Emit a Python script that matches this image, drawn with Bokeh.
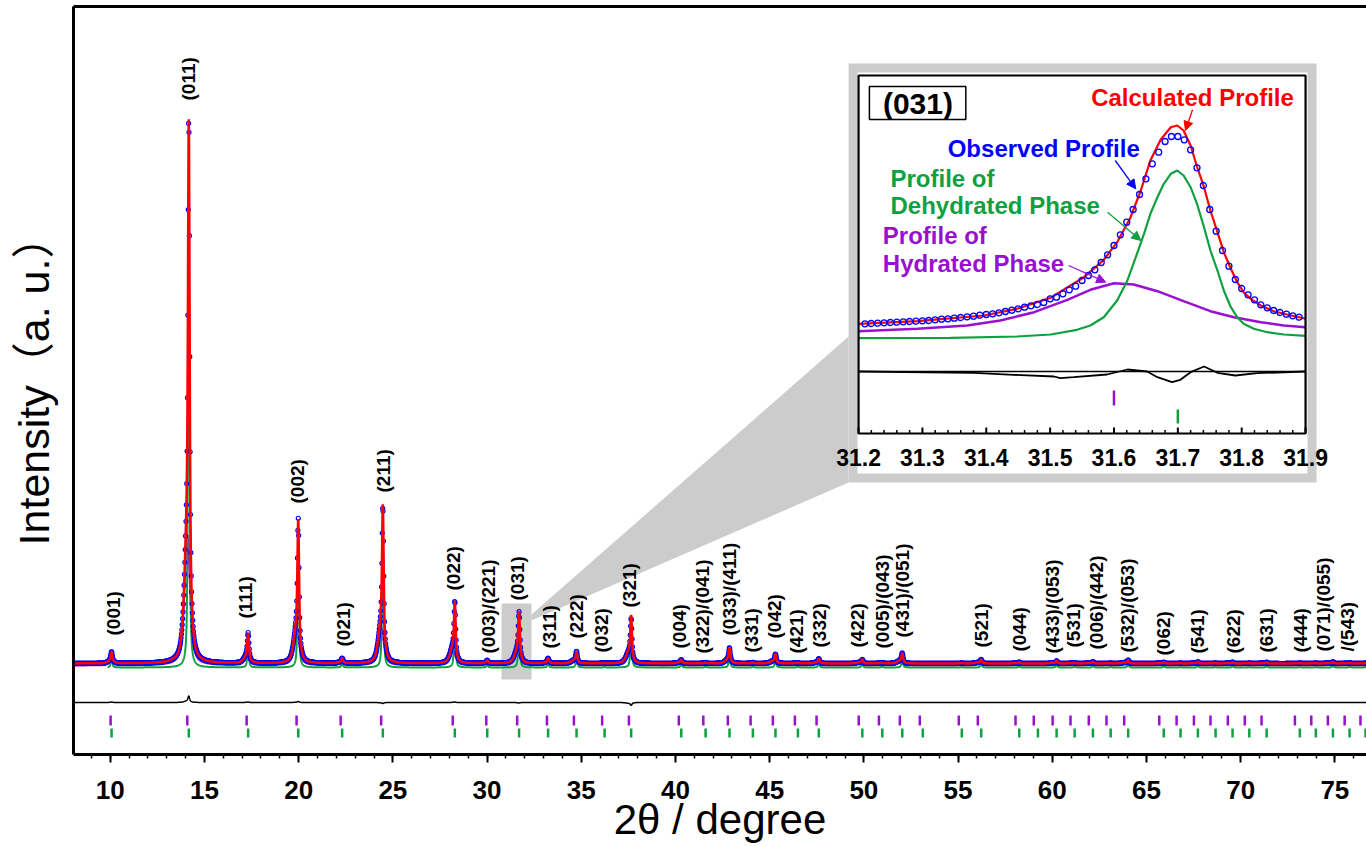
import numpy as np
from bokeh.plotting import figure
from bokeh.models import (Range1d, LinearAxis, FixedTicker, SingleIntervalTicker,
                          Arrow, NormalHead)
from bokeh.core.properties import value
from bokeh.embed import file_html
from bokeh.resources import INLINE

# ------------------------------------------------------------------ data
# reflection positions (2theta, degree) read from the tick rows
hydrated_pos = [10.02, 14.09, 17.24, 19.89, 22.23, 24.38, 28.18, 29.96, 31.60, 33.18,
                34.61, 36.11, 37.53, 40.18, 41.48, 42.78, 43.99, 45.17, 46.34, 47.49,
                49.73, 50.80, 51.91, 52.97, 55.04, 56.05, 58.05, 59.02, 60.02, 60.97,
                61.94, 62.88, 63.82, 65.68, 66.60, 67.52, 68.40, 69.32, 70.22, 71.11,
                72.88, 73.75, 74.63, 75.52, 76.36]
dehydrated_pos = [10.07, 14.17, 17.32, 19.98, 22.31, 24.47, 28.29, 30.01, 31.70, 33.24,
                  34.75, 36.24, 37.65, 40.31, 41.60, 42.87, 44.11, 45.31, 46.50, 47.61,
                  49.92, 50.98, 52.04, 53.13, 55.20, 56.23, 58.25, 59.24, 60.23, 61.19,
                  62.16, 63.10, 64.03, 65.92, 66.81, 67.73, 68.67, 69.57, 70.46, 71.38,
                  73.14, 73.99, 74.90, 75.78, 76.63]
# peak heights above background (counts), calculated and observed
calc_height = [220, 10860, 600, 2900, 100, 3200, 1280, 60, 1060, 100,
               260, 10, 1000, 80, 20, 320, 20, 200, 20, 100,
               90, 20, 220, 0, 10, 90, 30, 0, 60, 20,
               40, 10, 80, 30, 10, 40, 10, 30, 10, 30,
               10, 10, 40, 20, 10]
obs_height = [230, 10990, 610, 2920, 100, 3180, 1290, 60, 1050, 100,
              260, 10, 940, 80, 20, 320, 20, 200, 20, 100,
              90, 20, 220, 0, 10, 90, 30, 0, 60, 20,
              40, 10, 80, 30, 10, 40, 10, 30, 10, 30,
              10, 10, 40, 20, 10]
background = 1000
background_dehydrated = 920
background_hydrated = 960

label_text = ["(001)", "(011)", "(111)", "(002)", "(021)", "(211)", "(022)", "(003)/(221)",
              "(031)", "(311)", "(222)", "(032)", "(321)", "(004)", "(322)/(041)",
              "(033)/(411)", "(331)", "(042)", "(421)", "(332)", "(422)", "(005)/(043)",
              "(431)/(051)", "(521)", "(044)", "(433)/(053)", "(531)", "(006)/(442)",
              "(532)/(053)", "(062)", "(541)", "(622)", "(631)", "(444)", "(071)/(055)",
              "/(543)"]
label_2theta = [10.19, 14.16, 17.18, 19.94, 22.37, 24.51, 28.22, 30.06, 31.60, 33.34,
                34.73, 36.06, 37.58, 40.23, 41.42, 42.89, 44.02, 45.28, 46.41, 47.66,
                49.65, 50.98, 52.04, 56.25, 58.28, 60.00, 61.15, 62.35, 63.98, 65.89,
                67.73, 69.61, 71.37, 73.18, 74.42, 75.66]
label_y = [1560, 12260, 1900, 4200, 1340, 4420, 2460, 1200, 2260, 1300,
           1500, 1220, 2120, 1300, 1200, 1560, 1220, 1500, 1200, 1320,
           1320, 1300, 1520, 1320, 1240, 1200, 1320, 1280, 1220, 1160,
           1200, 1200, 1220, 1220, 1240, 1240]

# inset (031) region
inset_obs_2theta = [31.21, 31.22, 31.23, 31.24, 31.25, 31.26, 31.27, 31.28, 31.29, 31.30,
                    31.31, 31.32, 31.33, 31.34, 31.35, 31.36, 31.37, 31.38, 31.39, 31.40,
                    31.41, 31.42, 31.43, 31.44, 31.45, 31.46, 31.47, 31.48, 31.49, 31.50,
                    31.51, 31.52, 31.53, 31.54, 31.55, 31.56, 31.57, 31.58, 31.59, 31.60,
                    31.61, 31.62, 31.63, 31.64, 31.65, 31.66, 31.67, 31.68, 31.69, 31.70,
                    31.71, 31.72, 31.73, 31.74, 31.75, 31.76, 31.77, 31.78, 31.79, 31.80,
                    31.81, 31.82, 31.83, 31.84, 31.85, 31.86, 31.87, 31.88, 31.89]
inset_obs = [1097, 1100, 1103, 1107, 1110, 1113, 1117, 1120, 1123, 1127,
             1130, 1137, 1143, 1147, 1153, 1160, 1167, 1173, 1183, 1190,
             1197, 1207, 1220, 1233, 1247, 1263, 1277, 1290, 1310, 1347,
             1363, 1397, 1437, 1473, 1530, 1580, 1637, 1710, 1787, 1880,
             1987, 2113, 2240, 2390, 2547, 2697, 2813, 2920, 2970, 2970,
             2937, 2837, 2657, 2480, 2240, 2023, 1830, 1673, 1540, 1450,
             1387, 1337, 1287, 1257, 1230, 1210, 1193, 1177, 1163]
inset_calc_2theta = [31.200, 31.292, 31.396, 31.448, 31.501, 31.553, 31.584, 31.605, 31.626,
                     31.642, 31.657, 31.673, 31.689, 31.699, 31.709, 31.720, 31.730, 31.741,
                     31.751, 31.762, 31.772, 31.783, 31.793, 31.803, 31.814, 31.830, 31.850,
                     31.871, 31.900]
inset_calc = [1097, 1123, 1180, 1247, 1357, 1563, 1737, 1913, 2163,
              2430, 2730, 2937, 3063, 3080, 3030, 2880, 2670, 2463,
              2230, 2013, 1813, 1647, 1513, 1413, 1347, 1280, 1223,
              1190, 1147]
inset_dehyd_2theta = [31.200, 31.344, 31.448, 31.501, 31.542, 31.563, 31.584, 31.605, 31.621,
                      31.636, 31.647, 31.657, 31.668, 31.678, 31.689, 31.699, 31.709, 31.720,
                      31.730, 31.741, 31.751, 31.762, 31.772, 31.783, 31.793, 31.803, 31.819,
                      31.840, 31.866, 31.900]
inset_dehyd = [953, 957, 970, 990, 1037, 1080, 1163, 1330, 1530,
               1797, 1997, 2197, 2363, 2497, 2597, 2630, 2580, 2463,
               2297, 2063, 1830, 1630, 1430, 1263, 1163, 1097, 1047,
               1013, 990, 977]
inset_hyd_2theta = [31.200, 31.292, 31.370, 31.422, 31.475, 31.527, 31.563, 31.600,
                    31.631, 31.668, 31.709, 31.751, 31.788, 31.830, 31.866, 31.900]
inset_hyd = [1023, 1047, 1080, 1130, 1213, 1337, 1437, 1503,
             1490, 1423, 1323, 1223, 1163, 1113, 1080, 1063]
inset_diff_2theta = [31.200, 31.381, 31.443, 31.506, 31.516, 31.537, 31.589, 31.621, 31.652,
                     31.668, 31.691, 31.704, 31.720, 31.741, 31.762, 31.790, 31.824, 31.900]
inset_diff = [620, 607, 587, 570, 553, 563, 590, 640, 620,
              563, 513, 537, 613, 670, 607, 580, 603, 620]
inset_diff_zero = 620
inset_ticks = [31.2, 31.3, 31.4, 31.5, 31.6, 31.7, 31.8, 31.9]
inset_tick_labels = ["31.2", "31.3", "31.4", "31.5", "31.6", "31.7", "31.8", "31.9"]

# ------------------------------------------------------------------ styles
FONT = "Liberation Sans"
BLUE, RED, GREEN, PURPLE, GREY = "#0000ff", "#ff0000", "#10a040", "#9a10d0", "#cccccc"
W_DEHYD, W_HYD, ETA = 0.10, 0.35, 0.6
F_DEHYD, F_HYD = 0.80, 0.24


def profile(xx, heights, centers, width, frac):
    out = np.zeros_like(xx)
    for h, c in zip(heights, centers):
        if h <= 0:
            continue
        d = (xx - c) / width
        out += frac * h * (ETA / (1 + 4 * d * d) + (1 - ETA) * np.exp(-4 * np.log(2) * d * d))
    return out


x = np.arange(8.05, 76.70, 0.01)
xo = np.arange(8.06, 76.70, 0.02)
dehyd_part = profile(x, calc_height, dehydrated_pos, W_DEHYD, F_DEHYD)
hyd_part = profile(x, calc_height, hydrated_pos, W_HYD, F_HYD)
calc = background + dehyd_part + hyd_part
obs_fine = (background + profile(x, obs_height, dehydrated_pos, W_DEHYD, F_DEHYD)
            + profile(x, obs_height, hydrated_pos, W_HYD, F_HYD))
obs = (background + profile(xo, obs_height, dehydrated_pos, W_DEHYD, F_DEHYD)
       + profile(xo, obs_height, hydrated_pos, W_HYD, F_HYD))
DIFF_OFFSET = 220
diff = obs_fine - calc + DIFF_OFFSET
mask_d = x >= 9.85

# ------------------------------------------------------------------ figure
p = figure(width=1366, height=846, x_range=Range1d(8.05, 76.68), y_range=Range1d(-820, 14140),
           output_backend="svg", toolbar_location=None,
           min_border_left=73, min_border_right=0, min_border_top=6, min_border_bottom=92,
           background_fill_color="white", border_fill_color="white")
p.outline_line_color = None
p.xgrid.visible = False
p.ygrid.visible = False

xa = p.xaxis[0]
xa.ticker = SingleIntervalTicker(interval=5, num_minor_ticks=5)
xa.axis_line_width = 3
xa.axis_line_color = "black"
xa.major_tick_line_width = 2
xa.minor_tick_line_width = 1.5
xa.major_tick_line_color = "black"
xa.minor_tick_line_color = "black"
xa.major_tick_out = 8
xa.major_tick_in = 0
xa.minor_tick_out = 4
xa.minor_tick_in = 0
xa.major_label_text_font = FONT
xa.major_label_text_font_size = "26px"
xa.major_label_text_font_style = "bold"
xa.major_label_text_color = "black"
xa.major_label_standoff = 18
xa.axis_label = "2θ / degree"
xa.axis_label_text_font = FONT
xa.axis_label_text_font_size = "42px"
xa.axis_label_text_font_style = "normal"
xa.axis_label_text_color = "black"
xa.axis_label_standoff = -6

ya = p.yaxis[0]
ya.ticker = FixedTicker(ticks=[])
ya.axis_line_width = 3
ya.axis_line_color = "black"
ya.major_tick_out = 0
ya.major_tick_in = 0
ya.minor_tick_out = 0
ya.minor_tick_in = 0
ya.major_label_standoff = 0
ya.axis_label = "Intensity（a. u.）"
ya.axis_label_text_font = "Liberation Sans, Noto Sans CJK JP"
ya.axis_label_text_font_size = "43px"
ya.axis_label_text_font_style = "normal"
ya.axis_label_text_color = "black"
ya.axis_label_standoff = 16

top_axis = LinearAxis(ticker=FixedTicker(ticks=[]), axis_line_width=3, axis_line_color="black",
                      major_tick_out=0, major_tick_in=0, minor_tick_out=0, minor_tick_in=0,
                      major_label_standoff=0, major_label_text_font_size="0px")
p.add_layout(top_axis, "above")

# zoom marker (small box + wedge towards the inset)
p.quad(left=30.77, right=32.36, bottom=680, top=2200, fill_color=GREY, line_color=None)
p.patch([32.36, 49.19, 49.19, 32.36], [1980, 7540, 4620, 1860], fill_color=GREY, line_color=None)

# main pattern
p.line(x, background_hydrated + hyd_part, line_color=PURPLE, line_width=2)
p.line(x[mask_d], (background_dehydrated + dehyd_part)[mask_d], line_color=GREEN, line_width=2)
p.scatter(xo, obs, marker="circle", size=4, fill_color=None, line_color=BLUE, line_width=1.2)
p.line(x, calc, line_color=RED, line_width=2.5)
p.line(x, diff, line_color="black", line_width=1.5)
p.segment(x0=hydrated_pos, y0=-40, x1=hydrated_pos, y1=-240, line_color=PURPLE, line_width=2.5)
p.segment(x0=dehydrated_pos, y0=-300, x1=dehydrated_pos, y1=-480, line_color=GREEN, line_width=2.5)
p.text(x=label_2theta, y=label_y, text=label_text, angle=np.pi / 2, text_align="left",
       text_baseline="middle", text_font=value(FONT), text_font_size="19px",
       text_font_style="bold", text_color="black")

# ------------------------------------------------------------------ inset
p.quad(left=49.19, right=74.03, bottom=4620, top=13000, fill_color=GREY, line_color=None)
p.quad(left=49.665, right=73.551, bottom=4800, top=12820, fill_color="white", line_color=None)

IX0, IX1, IY0, IY1 = 31.2, 31.9, 0, 3580
TX0, TX1, TY0, TY1 = 49.719, 73.445, 5600, 12760
ins = p.subplot(x_source=Range1d(IX0, IX1), y_source=Range1d(IY0, IY1),
                x_target=Range1d(TX0, TX1), y_target=Range1d(TY0, TY1))

ins.line(inset_hyd_2theta, inset_hyd, line_color=PURPLE, line_width=2.5)
ins.line(inset_dehyd_2theta, inset_dehyd, line_color=GREEN, line_width=2.2)
ins.line(inset_calc_2theta, inset_calc, line_color=RED, line_width=2.2)
ins.scatter(inset_obs_2theta, inset_obs, marker="circle", size=6, fill_color=None,
            line_color=BLUE, line_width=1.3)
ins.line([IX0, IX1], [inset_diff_zero, inset_diff_zero], line_color="black", line_width=1.5)
ins.line(inset_diff_2theta, inset_diff, line_color="black", line_width=1.8)

hp_in = [v for v in hydrated_pos if IX0 <= v <= IX1]
dp_in = [v for v in dehydrated_pos if IX0 <= v <= IX1]
ins.segment(x0=hp_in, y0=430, x1=hp_in, y1=280, line_color=PURPLE, line_width=2.5)
ins.segment(x0=dp_in, y0=240, x1=dp_in, y1=100, line_color=GREEN, line_width=2.5)

minor = [round(IX0 + 0.02 * i, 2) for i in range(36) if i % 5 != 0]
ins.segment(x0=inset_ticks, y0=0, x1=inset_ticks, y1=60, line_color="black", line_width=2)
ins.segment(x0=minor, y0=0, x1=minor, y1=35, line_color="black", line_width=1.5)
ins.quad(left=IX0, right=IX1, bottom=IY0, top=IY1, fill_color=None, line_color="black", line_width=2.2)
ins.text(x=inset_ticks, y=-240, text=inset_tick_labels, text_align="center", text_baseline="middle",
         text_font=value(FONT), text_font_size="23px", text_font_style="bold", text_color="black")

# labels inside inset
ins.quad(left=31.217, right=31.368, bottom=3140, top=3470, fill_color="white", line_color="black",
         line_width=1.5)
ins.text(x=[31.293], y=[3300], text=["(031)"], text_align="center", text_baseline="middle",
         text_font=value(FONT), text_font_size="30px", text_font_style="bold", text_color="black")
ins.text(x=[31.723], y=[3360], text=["Calculated Profile"], text_align="center", text_baseline="middle",
         text_font=value(FONT), text_font_size="24px", text_font_style="bold", text_color=RED)
ins.text(x=[31.490], y=[2855], text=["Observed Profile"], text_align="center", text_baseline="middle",
         text_font=value(FONT), text_font_size="24px", text_font_style="bold", text_color=BLUE)
ins.text(x=[31.250, 31.250], y=[2550, 2280], text=["Profile of", "Dehydrated Phase"], text_align="left",
         text_baseline="middle", text_font=value(FONT), text_font_size="24px", text_font_style="bold",
         text_color=GREEN)
ins.text(x=[31.238, 31.238], y=[1980, 1705], text=["Profile of", "Hydrated Phase"], text_align="left",
         text_baseline="middle", text_font=value(FONT), text_font_size="24px", text_font_style="bold",
         text_color=PURPLE)


def mx(t):
    return TX0 + (t - IX0) * (TX1 - TX0) / (IX1 - IX0)


def my(v):
    return TY0 + (v - IY0) * (TY1 - TY0) / (IY1 - IY0)


for c, t0, v0, t1, v1 in [(RED, 31.723, 3237, 31.712, 3030),
                          (BLUE, 31.602, 2730, 31.634, 2447),
                          (GREEN, 31.590, 2213, 31.642, 1930),
                          (PURPLE, 31.529, 1680, 31.587, 1513)]:
    p.add_layout(Arrow(end=NormalHead(size=9, fill_color=c, line_color=c, line_width=1),
                       x_start=mx(t0), y_start=my(v0), x_end=mx(t1), y_end=my(v1),
                       line_color=c, line_width=1.3))

open("out.html", "w").write(file_html(p, INLINE))
